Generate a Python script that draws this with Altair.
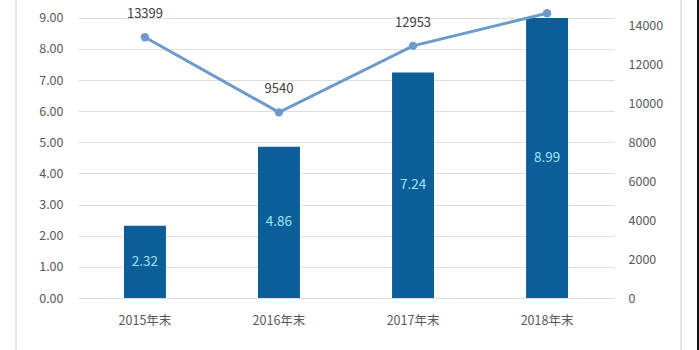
import altair as alt
import pandas as pd

years = ["2015年末", "2016年末", "2017年末", "2018年末"]
bar_values = [2.32, 4.86, 7.24, 8.99]
line_values = [13399, 9540, 12953, 14630]

df = pd.DataFrame({"year": years, "bar": bar_values, "line": line_values})
df["bar_label"] = df["bar"].map(lambda v: f"{v:.2f}")
df["line_label"] = df["line"].map(lambda v: f"{v}")

FONT = "Noto Sans CJK SC"
LEFT_MAX = 9.57
RIGHT_MAX = LEFT_MAX * 1600

x = alt.X(
    "year:N",
    sort=years,
    title=None,
    scale=alt.Scale(paddingInner=0.687, paddingOuter=0.343),
    axis=alt.Axis(
        labelAngle=0, labelFont=FONT, labelFontSize=12.5, labelColor="#595959",
        ticks=False, domain=False, labelPadding=16, grid=False,
    ),
)

left_axis = alt.Axis(
    values=[0, 1, 2, 3, 4, 5, 6, 7, 8, 9], format=".2f",
    labelFont=FONT, labelFontSize=12.5, labelColor="#595959",
    ticks=False, domain=False, labelPadding=15, labelOverlap=False,
    labelFlush=False,
    grid=True, gridColor="#DEDEDE", gridWidth=1.2,
)
left_scale = alt.Scale(domain=[0, LEFT_MAX], nice=False, zero=True)

right_axis = alt.Axis(
    orient="right", values=[0, 2000, 4000, 6000, 8000, 10000, 12000, 14000],
    format="d", labelFont=FONT, labelFontSize=12.5, labelColor="#595959",
    ticks=False, domain=False, labelPadding=14, grid=False,
    labelOverlap=False, labelFlush=False,
)
right_scale = alt.Scale(domain=[0, RIGHT_MAX], nice=False, zero=True)

base = alt.Chart(df)

bars = base.mark_bar(color="#0B5E98").encode(
    x=x, y=alt.Y("bar:Q", title=None, scale=left_scale, axis=left_axis)
)
bar_text = base.mark_text(
    font=FONT, fontSize=13.5, color="#9FE3F7", baseline="middle"
).encode(
    x=x,
    y=alt.Y("mid:Q", title=None, scale=left_scale, axis=left_axis),
    text="bar_label:N",
).transform_calculate(mid="datum.bar / 2")

left_layer = alt.layer(bars, bar_text)

y_right = alt.Y("line:Q", title=None, scale=right_scale, axis=right_axis)

line = base.mark_line(color="#6C9ACB", strokeWidth=3).encode(x=x, y=y_right)
points = base.mark_point(
    filled=True, color="#6C9ACB", size=70, opacity=1
).encode(x=x, y=y_right)
# the label of the last point lies above the visible area in the reference
line_text = base.mark_text(
    font=FONT, fontSize=13, color="#404040", dy=-23, baseline="middle"
).encode(x=x, y=y_right, text="line_label:N").transform_filter("datum.line < 14000")

right_layer = alt.layer(line, points, line_text)

border = alt.Chart(pd.DataFrame({"k": [0]})).mark_rule(
    color="#D0D0D0", strokeWidth=1
)
left_border = border.encode(x=alt.value(-62), y=alt.value(0), y2=alt.value(352))
right_border = border.encode(x=alt.value(603), y=alt.value(0), y2=alt.value(352))
edge = alt.Chart(pd.DataFrame({"k": [0]})).mark_rule(
    color="#111111", strokeWidth=2
).encode(x=alt.value(620), y=alt.value(0), y2=alt.value(352))

chart = (
    alt.layer(left_layer, right_layer, left_border, right_border, edge)
    .resolve_scale(y="independent")
    .properties(
        width=536,
        height=298,
        autosize=alt.AutoSizeParams(type="none"),
        padding={"left": 78, "top": 0, "right": 85, "bottom": 52},
        background="white",
    )
    .configure_view(stroke=None)
)

chart.save("out.html", embed_options={"renderer": "svg", "actions": False})
